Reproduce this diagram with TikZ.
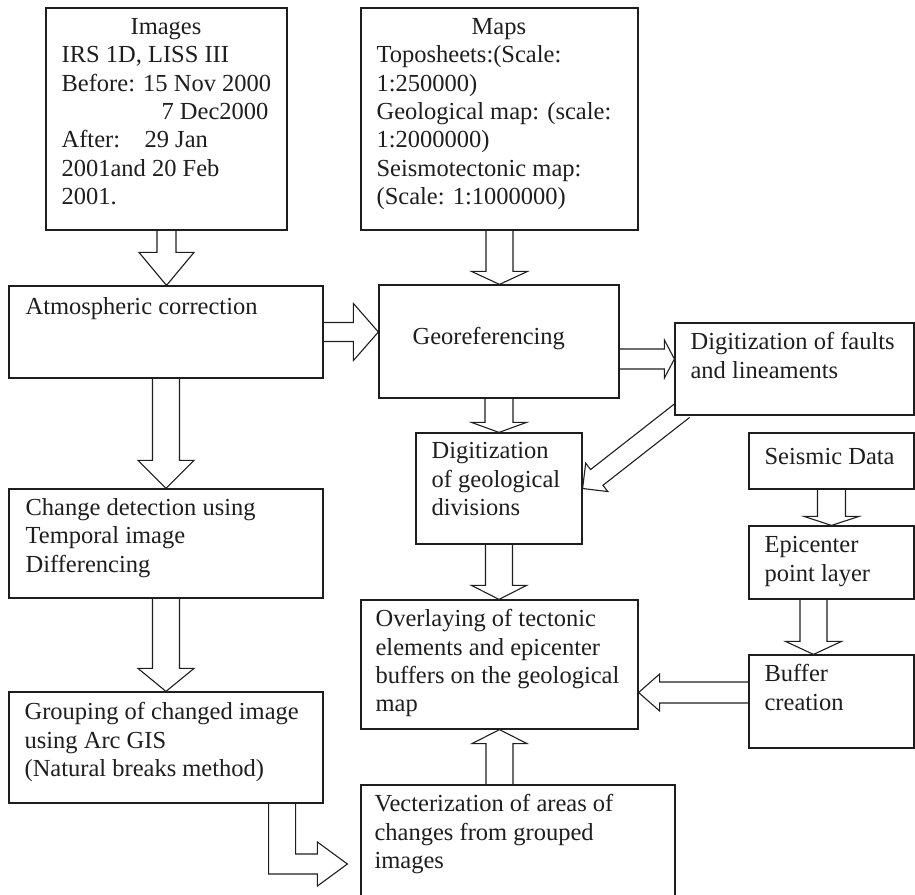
\documentclass[tikz,border=0pt]{standalone}
\usepackage{fontspec}
\setmainfont{Liberation Serif}
\usetikzlibrary{calc,backgrounds}
\definecolor{ink}{HTML}{1E1E1E}

% block arrow: shaft half width, head half width, head length, from, to
\newcommand{\blockarrow}[5]{%
  \coordinate (ba-s) at #4;
  \coordinate (ba-t) at #5;
  \coordinate (ba-h) at ($(ba-t)!#3pt!(ba-s)$);
  \draw[blk] ($(ba-s)!#1pt!90:(ba-t)$) -- ($(ba-h)!#1pt!90:(ba-t)$)
    -- ($(ba-h)!#2pt!90:(ba-t)$) -- (ba-t) -- ($(ba-h)!#2pt!-90:(ba-t)$)
    -- ($(ba-h)!#1pt!-90:(ba-t)$) -- ($(ba-s)!#1pt!-90:(ba-t)$);
}

\begin{document}
\begin{tikzpicture}[x=1pt,y=-1pt,
  box/.style 2 args={draw=ink,line width=1.2pt,fill=white,inner sep=0pt,
    minimum width=#1pt,minimum height=#2pt},
  blk/.style={draw=ink,line width=1.1pt,line join=miter},
  txt/.style={anchor=north west,inner sep=0pt,align=left,text=ink,
    font=\fontsize{24.5}{28.3}\selectfont,execute at begin node=\strut}]
\useasboundingbox (0,0) rectangle (915,894);
\clip (0,0) rectangle (915,894);

\node[box={241}{222}] (imgs) at (166.5,119) {};
\node[box={277}{222}] (maps) at (499.5,119) {};
\node[box={314}{92}] (atmos) at (166,332) {};
\node[box={240}{113}] (georef) at (499,341.5) {};
\node[box={239}{92}] (faults) at (794.5,369) {};
\node[box={166}{111}] (geodiv) at (499,488.5) {};
\node[box={165}{56}] (seismic) at (831.5,461) {};
\node[box={165}{73}] (epic) at (831.5,562.5) {};
\node[box={165}{93}] (buffer) at (831.5,701.5) {};
\node[box={314}{109}] (change) at (166,543.5) {};
\node[box={314}{111}] (group) at (166,747.5) {};
\node[box={277}{129}] (overlay) at (499.5,664.5) {};
\node[box={314}{125}] (vecter) at (518,847.5) {};

\node[txt] (imgs-t) at ([shift={(16,11)}]imgs.north west)
  {\hspace*{69pt}Images\\IRS 1D, LISS III\\Before: 15 Nov 2000\\
   \hspace*{100pt}7 Dec2000\\After:\quad 29 Jan\\2001and 20 Feb\\2001.};
\node[txt] (maps-t) at ([shift={(16,11)}]maps.north west)
  {\hspace*{95pt}Maps\\Toposheets:(Scale:\\1:250000)\\Geological map: (scale:\\
   1:2000000)\\Seismotectonic map:\\(Scale: 1:1000000)};
\node[txt] (atmos-t) at ([shift={(17,9)}]atmos.north west) {Atmospheric correction};
\node[txt] (georef-t) at ([shift={(34,40)}]georef.north west) {Georeferencing};
\node[txt] (faults-t) at ([shift={(16,10)}]faults.north west)
  {Digitization of faults\\and lineaments};
\node[txt] (geodiv-t) at ([shift={(16,10)}]geodiv.north west)
  {Digitization\\of geological\\divisions};
\node[txt] (seismic-t) at ([shift={(16,12)}]seismic.north west) {Seismic Data};
\node[txt] (epic-t) at ([shift={(16,11)}]epic.north west) {Epicenter\\point layer};
\node[txt] (buffer-t) at ([shift={(16,10)}]buffer.north west) {Buffer\\creation};
\node[txt] (change-t) at ([shift={(17,10)}]change.north west)
  {Change detection using\\Temporal image\\Differencing};
\node[txt] (group-t) at ([shift={(16,11)}]group.north west)
  {Grouping of changed image\\using Arc GIS\\(Natural breaks method)};
\node[txt] (overlay-t) at ([shift={(15,10)}]overlay.north west)
  {Overlaying of tectonic\\elements and epicenter\\buffers on the geological\\map};
\node[txt] (vecter-t) at ([shift={(14,10)}]vecter.north west)
  {Vecterization of areas of\\changes from grouped\\images};

\begin{scope}[on background layer]
\blockarrow{9.5}{27.5}{33}{(imgs.south)}{(ba-s |- atmos.north)}
\blockarrow{13.5}{28}{13}{(maps.south)}{(ba-s |- georef.north)}
\blockarrow{9.5}{28.5}{25}{(atmos.east)}{(ba-s -| georef.west)}
\blockarrow{10}{19}{10}{([yshift=-17.5pt]georef.east)}{(ba-s -| faults.west)}
\blockarrow{14}{27.5}{10}{(georef.south)}{(ba-s |- geodiv.north)}
\blockarrow{10}{18}{18}{($(faults.south west)+(9,-6)$)}{(geodiv.east)}
\blockarrow{13.5}{27.5}{14}{(geodiv.south)}{(ba-s |- overlay.north)}
\blockarrow{13.5}{27.5}{14}{(overlay.south |- vecter.north)}{(overlay.south)}
\blockarrow{14}{27.5}{9}{(seismic.south)}{(ba-s |- epic.north)}
\blockarrow{13.5}{28}{13}{([xshift=-18pt]epic.south)}{(ba-s |- buffer.north)}
\blockarrow{10.5}{18.5}{21}{([yshift=9pt]buffer.west)}{(ba-s -| overlay.east)}
\blockarrow{13.5}{28}{28}{(atmos.south)}{(ba-s |- change.north)}
\blockarrow{13.5}{28}{23}{(change.south)}{(ba-s |- group.north)}

\coordinate (g1) at ([xshift=-41.5pt]group.south east);
\coordinate (vt) at ([shift={(-13,16.5)}]vecter.west);
\draw[blk] ([xshift=-13.5pt]g1) |- ([shift={(-30,10)}]vt) -- ++(0,12) -- (vt)
  -- ([shift={(-30,-22)}]vt) -- ++(0,12) -| ([xshift=13.5pt]g1);
\end{scope}
\end{tikzpicture}
\end{document}
